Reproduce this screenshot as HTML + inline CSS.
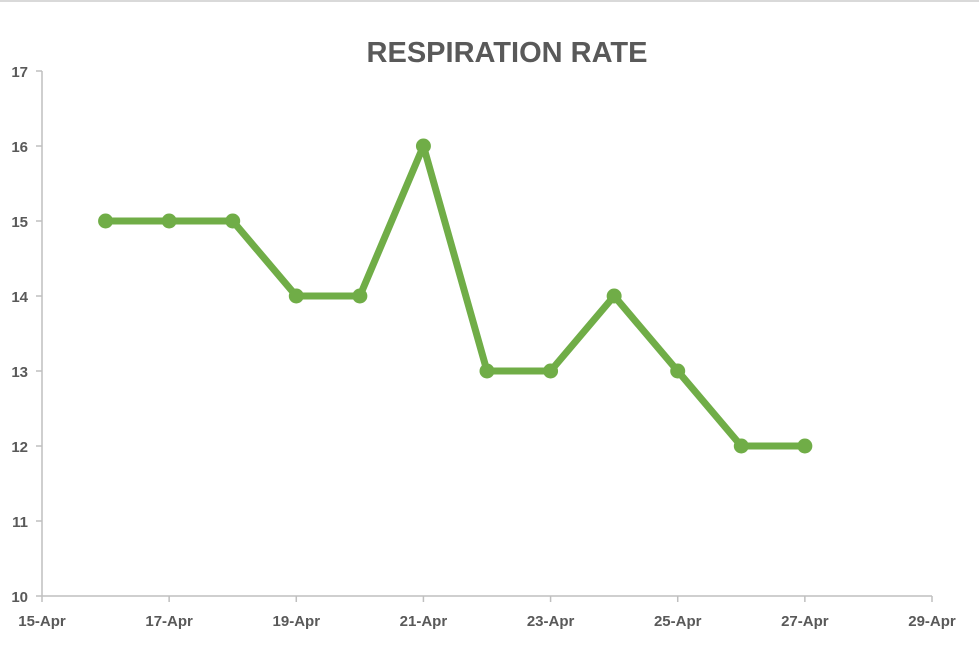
<!DOCTYPE html>
<html><head><meta charset="utf-8"><style>
body{margin:0;background:#fff;width:979px;height:640px;overflow:hidden;font-family:"Liberation Sans",sans-serif}
</style></head><body>
<svg id="chart" width="979" height="640" xmlns="http://www.w3.org/2000/svg">
<line x1="0" y1="1" x2="979" y2="1" stroke="#d9d9d9" stroke-width="2"/>
<text x="507" y="62" text-anchor="middle" font-size="29" font-weight="bold" fill="#595959">RESPIRATION RATE</text>
<g id="axes"></g><g id="series"></g>
</svg>
<script>
const dayLabels=["15-Apr","17-Apr","19-Apr","21-Apr","23-Apr","25-Apr","27-Apr","29-Apr"];
const tickDays=[15,17,19,21,23,25,27,29];
const yTicks=[10,11,12,13,14,15,16,17];
const days=[16,17,18,19,20,21,22,23,24,25,26,27];
const values=[15,15,15,14,14,16,13,13,14,13,12,12];
const NS="http://www.w3.org/2000/svg";
const x0=42,x1=932,y0=596,y1=71;
const xs=d=>x0+(d-15)/(29-15)*(x1-x0);
const ys=v=>y0-(v-10)/(17-10)*(y0-y1);
function mk(t,a,p){const e=document.createElementNS(NS,t);for(const k in a)e.setAttribute(k,a[k]);p.appendChild(e);return e;}
const ax=document.getElementById('axes'),se=document.getElementById('series');
let e=mk('line',{x1:x0,y1:y0,x2:x1,y2:y0,stroke:'#bfbfbf','stroke-width':1.5},ax);


e=mk('line',{x1:x0,y1:y0,x2:x0,y2:y1,stroke:'#bfbfbf','stroke-width':1.5},ax);


yTicks.forEach(v=>{
 let t=mk('line',{x1:x0-6,y1:ys(v),x2:x0,y2:ys(v),stroke:'#bfbfbf','stroke-width':1.5},ax);
 
 
 let l=mk('text',{x:28,y:ys(v)+6,'text-anchor':'end','font-size':15,'font-weight':'bold',fill:'#595959'},ax);
 l.textContent=v;
 
 
});
tickDays.forEach((d,i)=>{
 let t=mk('line',{x1:xs(d),y1:y0,x2:xs(d),y2:y0+6,stroke:'#bfbfbf','stroke-width':1.5},ax);
 
 
 let l=mk('text',{x:xs(d),y:626,'text-anchor':'middle','font-size':15,'font-weight':'bold',fill:'#595959'},ax);
 l.textContent=dayLabels[i];
 
 
});
let pl=mk('polyline',{points:days.map((d,i)=>xs(d)+','+ys(values[i])).join(' '),fill:'none',stroke:'#70ad47','stroke-width':7,'stroke-linejoin':'round'},se);


days.forEach((d,i)=>{
 let c=mk('circle',{cx:xs(d),cy:ys(values[i]),r:7.5,fill:'#70ad47'},se);
 
 
});
</script>
</body></html>
